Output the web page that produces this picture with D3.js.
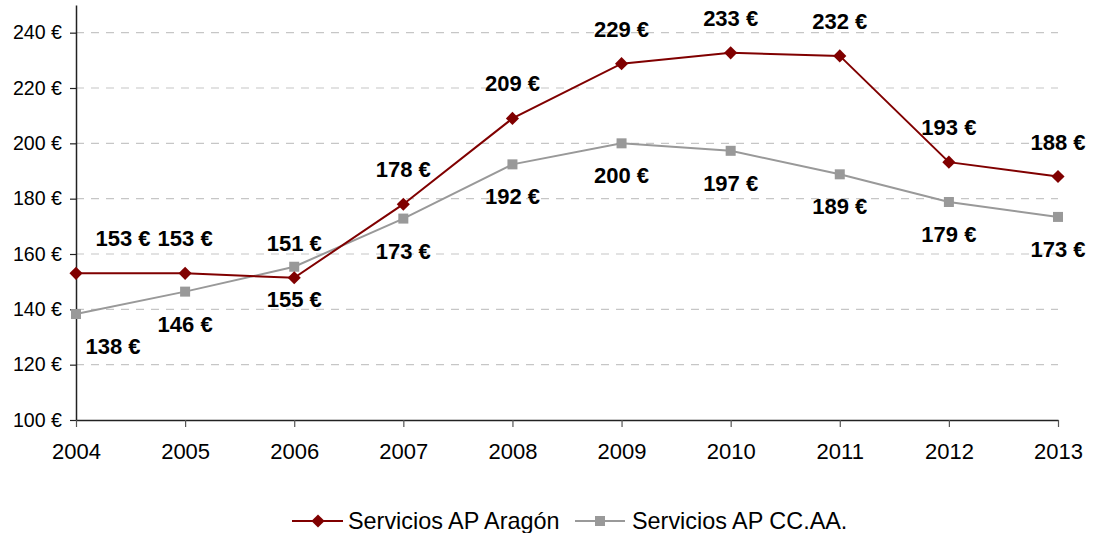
<!DOCTYPE html>
<html>
<head>
<meta charset="utf-8">
<script src="https://cdn.jsdelivr.net/npm/d3@7"></script>
<style>
  body { margin: 0; background: #fff; }
  svg { display: block; font-family: "Liberation Sans", Arial, sans-serif; }
</style>
</head>
<body>
<svg id="chart" width="1093" height="533"></svg>
<script>
const years = ["2004","2005","2006","2007","2008","2009","2010","2011","2012","2013"];
const aragon = [153, 153, 151.4, 178, 209, 228.8, 232.7, 231.6, 193.2, 188];
const ccaa = [138.3, 146.4, 155.4, 172.8, 192.4, 200, 197.3, 188.8, 178.8, 173.4];
const yTicks = [100, 120, 140, 160, 180, 200, 220, 240];
const seriesNames = ["Servicios AP Aragón", "Servicios AP CC.AA."];

const svg = d3.select("#chart");
const pLeft = 76, pRight = 1058, pTop = 5, pBottom = 420;
const x = d3.scalePoint().domain(years).range([pLeft, pRight]);
const y = d3.scaleLinear().domain([100, 250]).range([pBottom, pTop]);

const red = "#800000", grey = "#999999";

// gridlines
svg.append("g").selectAll("line").data(yTicks.slice(1)).join("line")
  .attr("x1", pLeft).attr("x2", pRight)
  .attr("y1", d => y(d)).attr("y2", d => y(d))
  .attr("stroke", "#c6c6c6").attr("stroke-width", 1.2)
  .attr("stroke-dasharray", "8,7");

// axes
const yAxis = svg.append("g").attr("transform", `translate(${pLeft},0)`)
  .call(d3.axisLeft(y).tickValues(yTicks).tickSize(6).tickSizeOuter(0).tickPadding(8)
    .tickFormat(d => d + " €"));
yAxis.attr("font-size", 19.6).attr("font-family", "Liberation Sans, Arial, sans-serif");
yAxis.selectAll("text").attr("fill", "#000");
yAxis.select(".domain").attr("stroke", "#222").attr("stroke-width", 1.5);
yAxis.selectAll(".tick line").attr("stroke", "#222").attr("stroke-width", 1.2);

const xAxis = svg.append("g").attr("transform", `translate(0,${pBottom})`)
  .call(d3.axisBottom(x).tickSize(7).tickSizeOuter(0).tickPadding(16));
xAxis.attr("font-size", 22).attr("font-family", "Liberation Sans, Arial, sans-serif");
xAxis.selectAll("text").attr("fill", "#000");
xAxis.select(".domain").attr("stroke", "#222").attr("stroke-width", 1.5);
xAxis.selectAll(".tick line").attr("stroke", "#555").attr("stroke-width", 1.2);

const line = d3.line().x((d, i) => x(years[i])).y(d => y(d));

// CC.AA. series
svg.append("path").datum(ccaa).attr("d", line)
  .attr("fill", "none").attr("stroke", grey).attr("stroke-width", 2);
svg.append("g").selectAll("rect").data(ccaa).join("rect")
  .attr("x", (d, i) => x(years[i]) - 5).attr("y", d => y(d) - 5)
  .attr("width", 10).attr("height", 10).attr("fill", grey);

// Aragón series
svg.append("path").datum(aragon).attr("d", line)
  .attr("fill", "none").attr("stroke", red).attr("stroke-width", 2);
const diamond = d3.symbol().type(d3.symbolDiamond2).size(110);
svg.append("g").selectAll("path").data(aragon).join("path")
  .attr("d", diamond)
  .attr("transform", (d, i) => `translate(${x(years[i])},${y(d)})`)
  .attr("fill", red);

// data labels
const firstShiftA = 47, firstShiftC = 37;
svg.append("g").selectAll("text").data(aragon).join("text")
  .attr("x", (d, i) => x(years[i]) + (i === 0 ? firstShiftA : 0))
  .attr("y", d => y(d) - 27)
  .attr("text-anchor", "middle").attr("font-size", 22).attr("font-weight", "bold")
  .attr("fill", "#000").text(d => Math.round(d) + " €");
svg.append("g").selectAll("text").data(ccaa).join("text")
  .attr("x", (d, i) => x(years[i]) + (i === 0 ? firstShiftC : 0))
  .attr("y", d => y(d) + 40)
  .attr("text-anchor", "middle").attr("font-size", 22).attr("font-weight", "bold")
  .attr("fill", "#000").text(d => Math.round(d) + " €");

// legend
const lg = svg.append("g");
const ly = 521;
lg.append("line").attr("x1", 292).attr("x2", 343).attr("y1", ly).attr("y2", ly)
  .attr("stroke", red).attr("stroke-width", 2);
lg.append("path").attr("d", diamond).attr("transform", `translate(318,${ly})`).attr("fill", red);
lg.append("text").attr("x", 348).attr("y", ly + 8).attr("font-size", 23.4)
  .attr("fill", "#000").text(seriesNames[0]);
lg.append("line").attr("x1", 575).attr("x2", 625).attr("y1", ly).attr("y2", ly)
  .attr("stroke", grey).attr("stroke-width", 2);
lg.append("rect").attr("x", 595).attr("y", ly - 5).attr("width", 10).attr("height", 10).attr("fill", grey);
lg.append("text").attr("x", 632).attr("y", ly + 8).attr("font-size", 23.4)
  .attr("fill", "#000").text(seriesNames[1]);
</script>
</body>
</html>
